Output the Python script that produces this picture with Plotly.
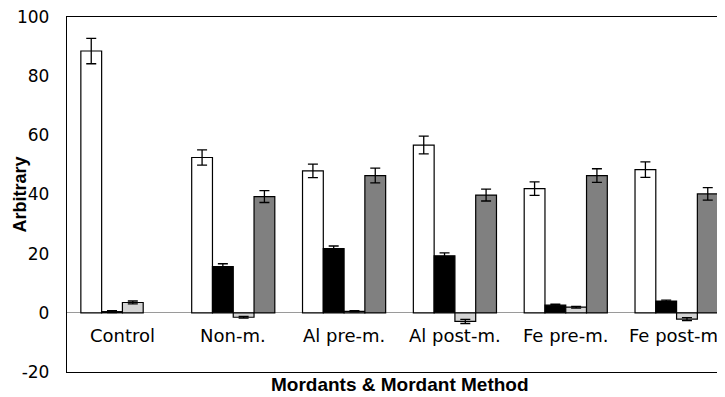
import plotly.graph_objects as go

categories = ["Control", "Non-m.", "Al pre-m.", "Al post-m.", "Fe pre-m.", "Fe post-m."]
series_names = ["Series 1", "Series 2", "Series 3", "Series 4"]
s1_vals = [88.5, 52.5, 48.0, 56.7, 42.0, 48.4]
s1_err = [4.3, 2.6, 2.3, 3.0, 2.3, 2.6]
s2_vals = [0.4, 15.6, 21.7, 19.3, 2.6, 4.0]
s2_err = [0.3, 1.0, 0.9, 1.0, 0.3, 0.3]
s3_vals = [3.5, -1.5, 0.5, -2.9, 1.9, -2.1]
s3_err = [0.5, 0.3, 0.2, 0.7, 0.3, 0.5]
s4_vals = [None, 39.3, 46.4, 39.8, 46.4, 40.2]
s4_err = [0.0, 2.0, 2.5, 2.0, 2.3, 2.1]
y_tick_vals = [-20, 0, 20, 40, 60, 80, 100]
y_tick_text = ["-20", "0", "20", "40", "60", "80", "100"]

colors = ["#FFFFFF", "#000000", "#D4D4D4", "#808080"]
vals = [s1_vals, s2_vals, s3_vals, s4_vals]
errs = [s1_err, s2_err, s3_err, s4_err]

fig = go.Figure()
for name, v, e, c in zip(series_names, vals, errs, colors):
    fig.add_trace(go.Bar(
        x=categories, y=v, name=name,
        marker=dict(color=c, line=dict(color="#000000", width=1.2)),
        error_y=dict(type="data", array=e, visible=True, color="#000000",
                     thickness=1.3, width=5),
    ))

font_family = "DejaVu Sans"
title_family = "Liberation Sans"
for cat in categories:
    fig.add_annotation(x=cat, y=-7.8, xref="x", yref="y", text=cat, showarrow=False,
                       yanchor="middle", font=dict(family=font_family, size=18, color="#000000"))

fig.add_annotation(x=0.5, y=0, xref="paper", yref="paper", yshift=-12,
                   text="<b>Mordants & Mordant Method</b>", showarrow=False, yanchor="middle",
                   font=dict(family=title_family, size=19, color="#000000"))
fig.add_annotation(x=0, y=0.5, xref="paper", yref="paper", xshift=-48,
                   text="<b>Arbitrary</b>", showarrow=False, textangle=-90, xanchor="center",
                   font=dict(family=title_family, size=18, color="#000000"))

fig.update_layout(
    width=725, height=397,
    margin=dict(l=59, r=1, t=9, b=33),
    paper_bgcolor="#FFFFFF", plot_bgcolor="#FFFFFF",
    barmode="group", bargap=0.25, bargroupgap=0,
    showlegend=False,
    font=dict(family=font_family, size=17, color="#000000"),
)
fig.update_xaxes(showticklabels=False, ticks="", showgrid=False, showline=True,
                 linecolor="#000000", linewidth=1.3, mirror=True, zeroline=False,
                 automargin=False)
fig.update_yaxes(range=[-20, 100], tickvals=y_tick_vals, ticktext=y_tick_text,
                 showgrid=False, ticks="", ticklabelstandoff=13, ticklabeloverflow="allow",
                 automargin=False,
                 showline=True, linecolor="#000000", linewidth=1.3, mirror=True,
                 zeroline=True, zerolinecolor="#9A9A9A", zerolinewidth=1.3,
                 tickfont=dict(family=font_family, size=17, color="#000000"))

fig.write_html("out.html")
